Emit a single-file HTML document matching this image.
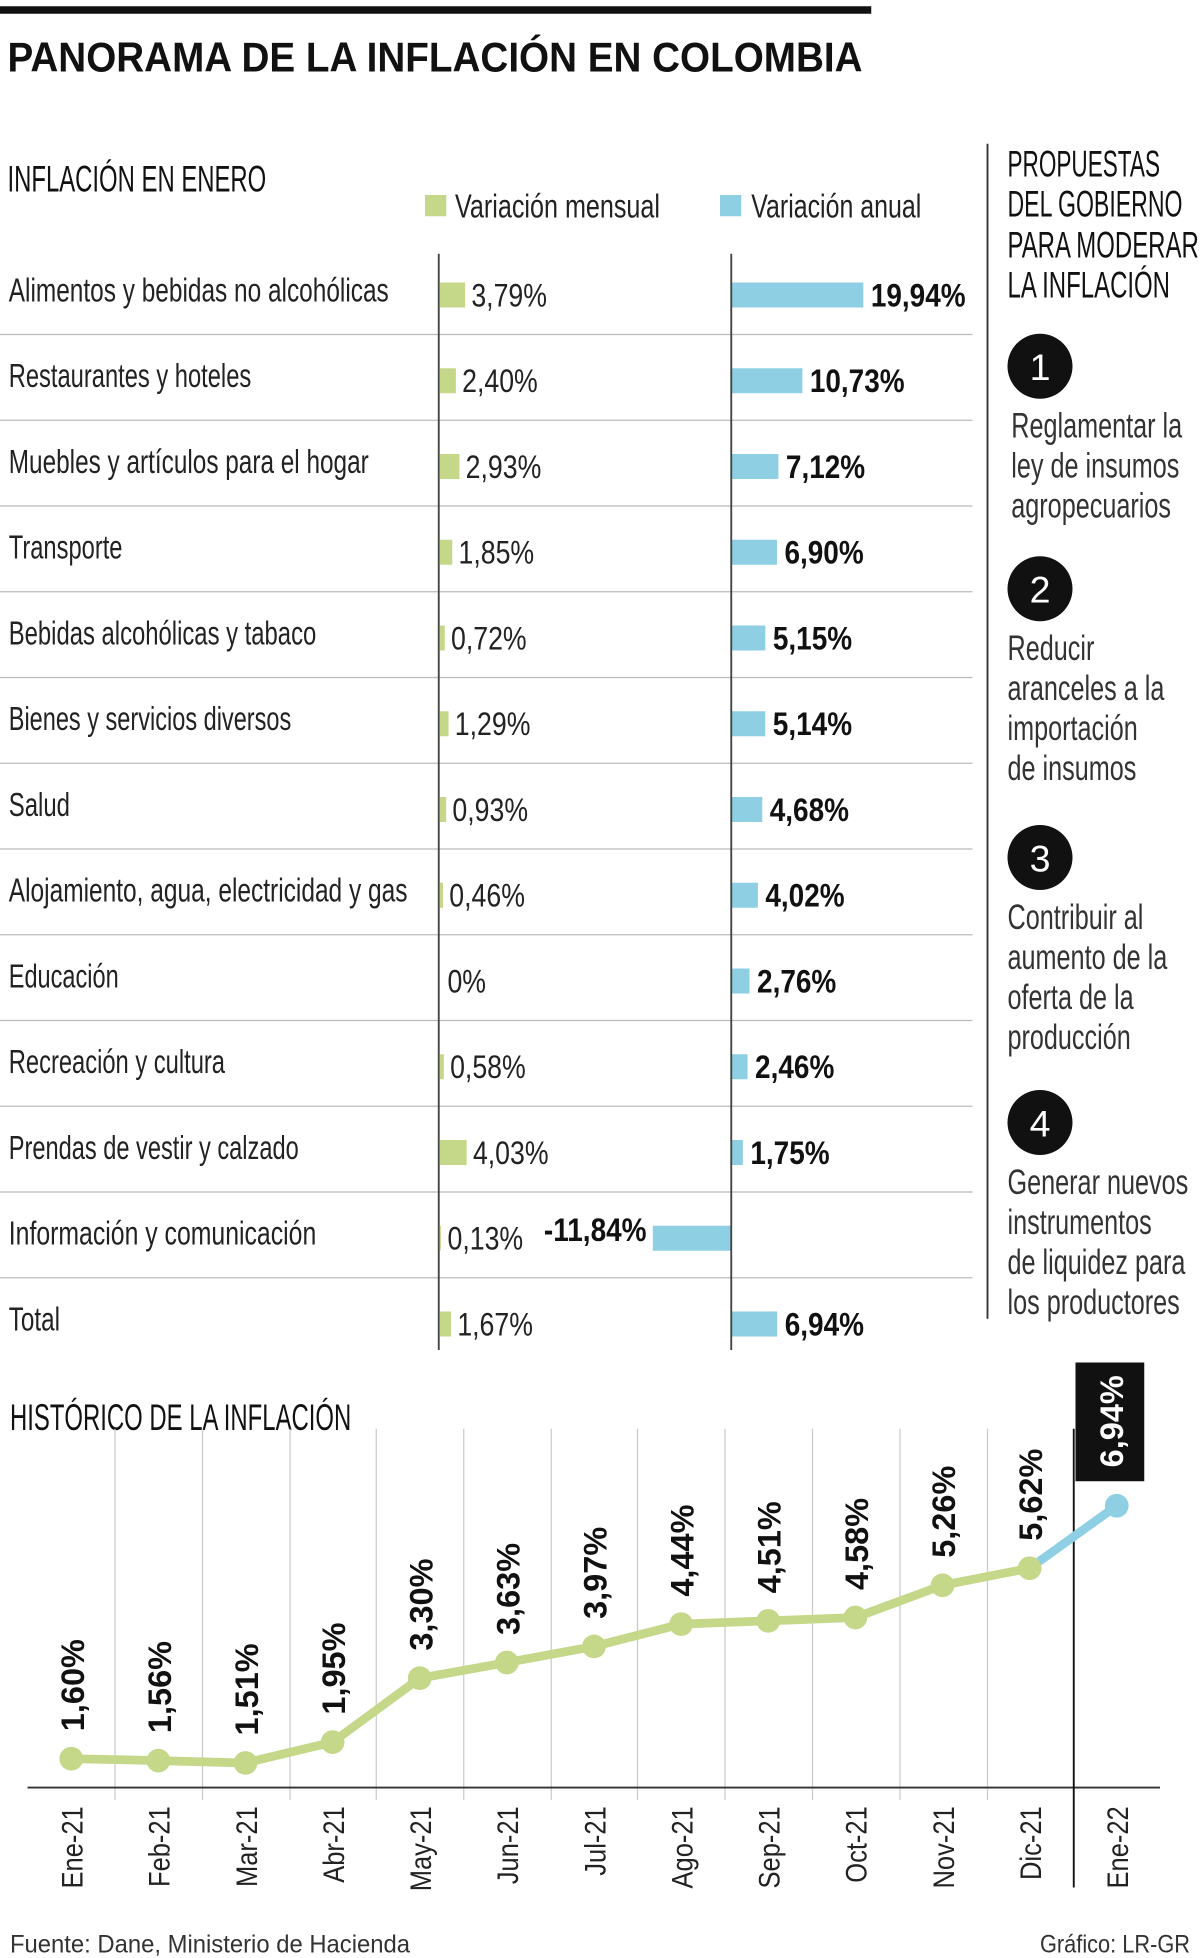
<!DOCTYPE html>
<html><head><meta charset="utf-8">
<style>
html,body{margin:0;padding:0;background:#fff;}
svg{display:block;}
text{font-family:"Liberation Sans Narrow","Liberation Sans",sans-serif;}
</style></head>
<body>
<svg id="chart" width="1200" height="1958" viewBox="0 0 960 1566.4" xmlns="http://www.w3.org/2000/svg">
<rect x="0" y="5" width="697" height="6" fill="#111"/>
<text x="6" y="57" font-size="33" font-weight="bold" fill="#111" textLength="684" lengthAdjust="spacingAndGlyphs" style="font-family:'Liberation Sans',sans-serif">PANORAMA DE LA INFLACIÓN EN COLOMBIA</text>
<text x="6" y="153" font-size="30" fill="#111" textLength="207" lengthAdjust="spacingAndGlyphs">INFLACIÓN EN ENERO</text>
<g>
<rect x="340" y="156" width="17" height="17" fill="#c5d88a"/>
<text x="364" y="174" font-size="27" fill="#222" textLength="164" lengthAdjust="spacingAndGlyphs">Variación mensual</text>
<rect x="576" y="156" width="17" height="17" fill="#8ecfe3"/>
<text x="601" y="174" font-size="27" fill="#222" textLength="136" lengthAdjust="spacingAndGlyphs">Variación anual</text>
</g>
<g id="bars"></g>
<line x1="351" y1="203" x2="351" y2="1080" stroke="#444" stroke-width="1.5"/>
<line x1="585" y1="203" x2="585" y2="1080" stroke="#444" stroke-width="1.5"/>

<line x1="790" y1="115" x2="790" y2="1055" stroke="#333" stroke-width="1.5"/>
<g fill="#111">
<text x="806" y="141" font-size="30" textLength="122" lengthAdjust="spacingAndGlyphs">PROPUESTAS</text>
<text x="806" y="173" font-size="30" textLength="140" lengthAdjust="spacingAndGlyphs">DEL GOBIERNO</text>
<text x="806" y="206" font-size="30" textLength="153" lengthAdjust="spacingAndGlyphs">PARA MODERAR</text>
<text x="806" y="238" font-size="30" textLength="130" lengthAdjust="spacingAndGlyphs">LA INFLACIÓN</text>
</g>
<g id="props"></g>

<text x="8" y="1144" font-size="30" fill="#111" textLength="273" lengthAdjust="spacingAndGlyphs">HISTÓRICO DE LA INFLACIÓN</text>
<g id="hist"></g>
<text x="8" y="1562" font-size="20" fill="#333" textLength="320" lengthAdjust="spacingAndGlyphs">Fuente: Dane, Ministerio de Hacienda</text>
<text x="952" y="1562" font-size="20" fill="#333" text-anchor="end" textLength="120" lengthAdjust="spacingAndGlyphs">Gráfico: LR-GR</text>
</svg>
<script>
const categories = ["Alimentos y bebidas no alcohólicas","Restaurantes y hoteles","Muebles y artículos para el hogar","Transporte","Bebidas alcohólicas y tabaco","Bienes y servicios diversos","Salud","Alojamiento, agua, electricidad y gas","Educación","Recreación y cultura","Prendas de vestir y calzado","Información y comunicación","Total"];
const mensual = [3.79,2.40,2.93,1.85,0.72,1.29,0.93,0.46,0,0.58,4.03,0.13,1.67];
const anual = [19.94,10.73,7.12,6.90,5.15,5.14,4.68,4.02,2.76,2.46,1.75,-11.84,6.94];
const labelWidths = [304,194,288,91,246,226,49,319,88,173,232,246,41];
const months = ["Ene-21","Feb-21","Mar-21","Abr-21","May-21","Jun-21","Jul-21","Ago-21","Sep-21","Oct-21","Nov-21","Dic-21","Ene-22"];
const historico = [1.60,1.56,1.51,1.95,3.30,3.63,3.97,4.44,4.51,4.58,5.26,5.62,6.94];
const proposals = [["Reglamentar la","ley de insumos","agropecuarios"],["Reducir","aranceles a la","importación","de insumos"],["Contribuir al","aumento de la","oferta de la","producción"],["Generar nuevos","instrumentos","de liquidez para","los productores"]];

const NS="http://www.w3.org/2000/svg";
function mk(tag,attrs,parent,txt){const e=document.createElementNS(NS,tag);for(const k in attrs)e.setAttribute(k,attrs[k]);if(txt!==undefined)e.textContent=txt;parent.appendChild(e);return e;}
function squeeze(el,f){const w=el.getComputedTextLength();el.setAttribute('textLength',(w*f).toFixed(1));el.setAttribute('lengthAdjust','spacingAndGlyphs');}
const fmt=v=>v.toFixed(2).replace('.',',')+'%';
const fmt0=v=>v===0?'0%':fmt(v);

const bars=document.getElementById('bars');
const rowY=i=>233+i*68.6;
const px=5.3;
const xm=v=>352+v*px;
const xa=v=>585+v*px;
categories.forEach((c,i)=>{
  const cy=rowY(i);
  if(i>0){const ln=mk('line',{x1:0,x2:778,y1:cy-34,y2:cy-34,stroke:'#bbb','stroke-width':1},bars);
    
    }
  const t=mk('text',{x:7,y:cy+8,'font-size':27,fill:'#222',textLength:labelWidths[i],lengthAdjust:'spacingAndGlyphs'},bars,c);
  
  
  const m=mensual[i];
  const bm=mk('rect',{x:352,y:cy-7,width:Math.max(0,xm(m)-352),height:20,fill:'#c5d88a'},bars);
  
  
  const tm=mk('text',{x:Math.max(xm(m),353)+5,y:cy+12,'font-size':26,fill:'#222',style:"font-family:'Liberation Sans',sans-serif"},bars,fmt0(m));
  
  
  squeeze(tm,0.82);
  const a=anual[i];
  const x0=Math.min(585,xa(a)), w=Math.abs(a)*px;
  const ba=mk('rect',{x:x0,y:cy-7,width:w,height:20,fill:'#8ecfe3'},bars);
  
  
  const ta=a>=0?mk('text',{x:xa(a)+6,y:cy+12,'font-size':26,'font-weight':'bold',fill:'#111',style:"font-family:'Liberation Sans',sans-serif"},bars,fmt(a))
              :mk('text',{x:xa(a)-5,y:cy+5,'font-size':26,'font-weight':'bold',fill:'#111','text-anchor':'end',style:"font-family:'Liberation Sans',sans-serif"},bars,fmt(a));
  
  
  squeeze(ta,0.86);
});

const props=document.getElementById('props');
const circY=[293,471,686,898];
proposals.forEach((lines,i)=>{
  const c=mk('circle',{cx:832,cy:circY[i],r:26,fill:'#111'},props);
  
  
  const n=mk('text',{x:832,y:circY[i]+11,'font-size':30,fill:'#fff','text-anchor':'middle',style:"font-family:'Liberation Sans',sans-serif"},props,String(i+1));
  
  
  lines.forEach((l,j)=>{
    const t=mk('text',{x:i===0?809:806,y:circY[i]+57+j*32,'font-size':28,fill:'#333',style:"font-family:'Liberation Sans',sans-serif"},props,l);
    
    
    squeeze(t,0.72);
  });
});

const hist=document.getElementById('hist');
const hx=i=>57+i*69.7;
const hy=v=>1467.6-v*37.9;
[92,162,232,301,371,441,510,580,650,720,790].forEach(x=>{
  const g=mk('line',{x1:x,x2:x,y1:1143,y2:1440,stroke:'#ccc','stroke-width':1},hist);
  
  
});
const base=mk('line',{x1:22,x2:928,y1:1430,y2:1430,stroke:'#333','stroke-width':1.5},hist);


const sep=mk('line',{x1:859,x2:859,y1:1143,y2:1510,stroke:'#111','stroke-width':1.5},hist);


const n=historico.length;
const pts=historico.slice(0,n-1).map((v,i)=>hx(i)+','+hy(v)).join(' ');
const pl=mk('polyline',{points:pts,fill:'none',stroke:'#c5d88a','stroke-width':7,'stroke-linejoin':'round'},hist);


const last=mk('line',{x1:hx(n-2),y1:hy(historico[n-2]),x2:hx(n-1),y2:hy(historico[n-1]),stroke:'#8ecfe3','stroke-width':7},hist);


historico.forEach((v,i)=>{
  const x=hx(i),y=hy(v),isLast=i===n-1;
  const p=mk('circle',{cx:x,cy:y,r:9.5,fill:isLast?'#8ecfe3':'#c5d88a'},hist);
  
  
  if(isLast){
    const b=mk('rect',{x:x-33,y:1090,width:55,height:95,fill:'#111'},hist);
    
    
    const t=mk('text',{x:0,y:0,'font-size':26,'font-weight':'bold',fill:'#fff','text-anchor':'middle',transform:`translate(${x+5},1137) rotate(-90)`,style:"font-family:'Liberation Sans',sans-serif"},hist,fmt(v));
    
    
  } else {
    const t=mk('text',{x:0,y:0,'font-size':26,'font-weight':'bold',fill:'#111',transform:`translate(${x+10},${y-22}) rotate(-90)`,style:"font-family:'Liberation Sans',sans-serif"},hist,fmt(v));
    
    
  }
  const m=mk('text',{x:0,y:0,'font-size':24,fill:'#222','text-anchor':'end',transform:`translate(${x+9},1445) rotate(-90)`,style:"font-family:'Liberation Sans',sans-serif"},hist,months[i]);
  
  
  squeeze(m,0.85);
});
</script>
</body></html>
